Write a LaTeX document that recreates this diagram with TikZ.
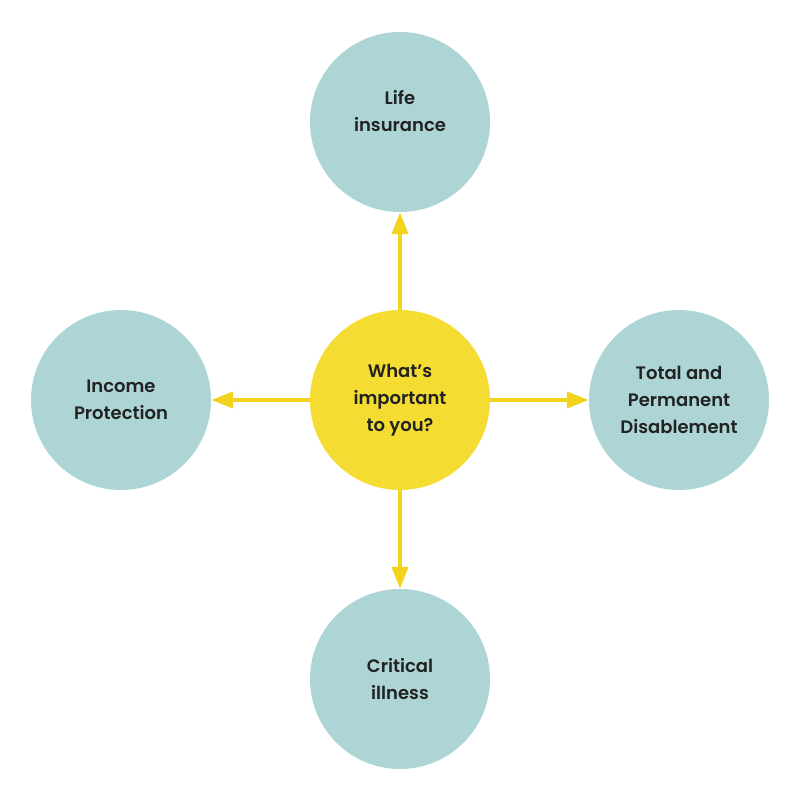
\documentclass[tikz,border=0pt]{standalone}
\usepackage{fontspec}
\setmainfont{Poppins}[UprightFont=* SemiBold]
\usetikzlibrary{arrows.meta}
\definecolor{teal1}{HTML}{ADD5D6}
\definecolor{yel}{HTML}{F5DC32}
\definecolor{yelarr}{HTML}{F3D41C}
\definecolor{txt}{HTML}{222222}
\begin{document}
\begin{tikzpicture}[x=1pt,y=-1pt,
  lbl/.style={align=center,text=txt,font=\fontsize{18}{27}\selectfont},
  bub/.style={lbl,circle,fill=teal1,minimum size=180pt,inner sep=0pt},
  hub/.style={bub,fill=yel},
  arr/.style={draw=yelarr,line width=4pt,-{Triangle[length=22pt,width=16pt]}}]
\useasboundingbox (0,0) rectangle (800,800);
\node[hub] (c) at (400,400) {What’s\\important\\to you?};
\node[bub] (t) at (400,122) {};
\node[lbl] (tl) at (400,111) {Life\\insurance};
\node[bub] (l) at (121,400) {Income\\Protection};
\node[bub] (r) at (679,400) {Total and\\Permanent\\Disablement};
\node[bub] (b) at (400,679) {Critical\\illness};
\draw[arr] (c) -- (t);
\draw[arr] (c) -- (l);
\draw[arr] (c) -- (r);
\draw[arr] (c) -- (b);
\end{tikzpicture}
\end{document}
